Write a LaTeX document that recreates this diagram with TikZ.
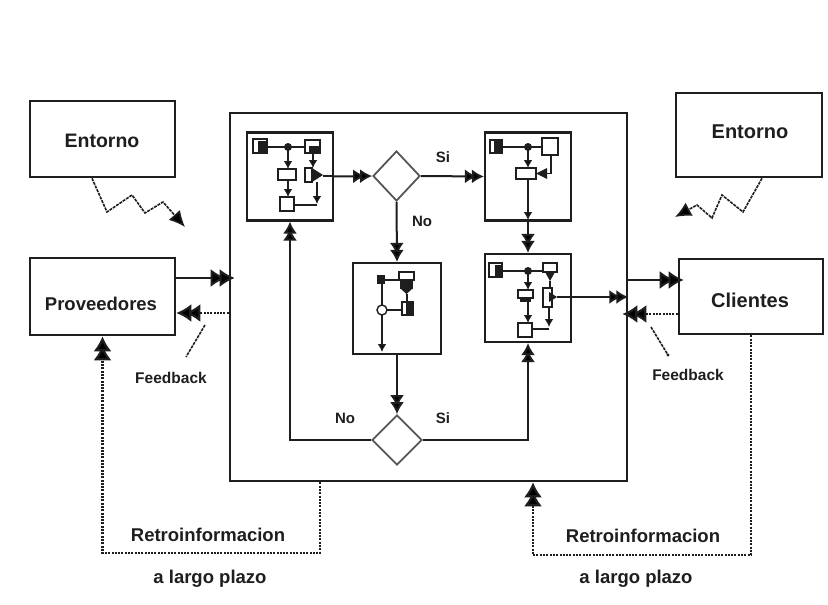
\documentclass[tikz,border=0pt]{standalone}
\usepackage{fontspec}
\setmainfont{Liberation Sans}
\usetikzlibrary{arrows.meta,shapes.geometric,calc}
\definecolor{ink}{HTML}{1E1E1E}
\tikzset{
  box/.style={draw=ink, line width=2.6pt, fill=white, inner sep=0pt},
  pbox/.style={draw=ink, line width=2.2pt, fill=white, inner sep=0pt},
  dia/.style={diamond, draw=ink!75, line width=1.8pt, fill=white, inner sep=0pt},
  lbl/.style={font=\bfseries\fontsize{#1}{#1}\selectfont, text=ink, inner sep=0pt, anchor=base},
  conn/.style={draw=ink, line width=2pt},
  tipm/.style={-{Latex[length=12pt,width=14pt,fill=black,sep=-5pt]Latex[length=12pt,width=14pt,fill=black]}},
  tipb/.style={-{Latex[length=15pt,width=18pt,fill=black,sep=-6pt]Latex[length=15pt,width=18pt,fill=black]}},
  arr/.style={conn, tipm},
  bigarr/.style={conn, tipb},
  dotarr/.style={draw=ink, line width=2.2pt, dash pattern=on 2pt off 1.3pt, tipb},
  zig/.style={draw=ink, line width=1.6pt, dash pattern=on 3pt off 1pt},
  mini/.style={draw=ink, line width=1.4pt, fill=white},
  mline/.style={draw=ink, line width=1.6pt},
  marr/.style={mline, -{Latex[length=8pt,width=9pt,fill=black]}},
}
\begin{document}
\begin{tikzpicture}[x=1pt,y=-1pt]
\useasboundingbox (0,0) rectangle (828,605);
\fill[white] (0,0) rectangle (828,605);

% outer boxes
\node[box, minimum width=145pt, minimum height=76pt] (ent1) at (102.5,139) {};
\node[box, minimum width=145pt, minimum height=77pt] (prov) at (102.5,296.5) {};
\node[box, minimum width=146pt, minimum height=84pt] (ent2) at (749,135) {};
\node[box, minimum width=144pt, minimum height=75pt] (cli) at (751,296.5) {};
\node[box, minimum width=397pt, minimum height=368pt] (main) at (428.5,297) {};

% inner process boxes and decisions
\node[pbox, minimum width=86pt, minimum height=88pt] (p1) at (290,176.5) {};
\node[pbox, minimum width=86pt, minimum height=88pt] (p2) at (528,176.5) {};
\node[pbox, minimum width=88pt, minimum height=91pt] (p3) at (397,308.5) {};
\node[pbox, minimum width=86pt, minimum height=88pt] (p4) at (528,298) {};
\node[dia, minimum width=47pt, minimum height=50pt] (d1) at (396.5,176) {};
\node[dia, minimum width=50pt, minimum height=50pt] (d2) at (397,440) {};

% labels
\node[lbl=19.5] at (102,147) {Entorno};
\node[lbl=18.5] at (101,310) {Proveedores};
\node[lbl=20] at (750,138) {Entorno};
\node[lbl=20] at (750,307) {Clientes};
\node[lbl=15.5] at (171,383) {Feedback};
\node[lbl=15.5] at (688,380) {Feedback};
\node[lbl=18.5] at (208,541) {Retroinformacion};
\node[lbl=18.5] at (210,583) {a largo plazo};
\node[lbl=18.5] at (643,542) {Retroinformacion};
\node[lbl=18.5] at (636,583) {a largo plazo};
\node[lbl=15] at (443,162) {Si};
\node[lbl=15] at (422,226) {No};
\node[lbl=15] at (345,423) {No};
\node[lbl=15] at (443,423) {Si};

% inner mini-flows
\begin{scope}[shift={(247,133)}]
\draw[mini] (6,6) rectangle (20,20); \fill[ink] (11,8) rectangle (20,20);
\draw[mline] (20,14) -- (58,14);
\draw[mini] (58,7) rectangle (73,20); \fill[ink] (62,13) rectangle (73,20);
\fill[ink] (41,14) circle (4pt);
\draw[marr] (41,17) -- (41,36);
\draw[mini] (31,36) rectangle (49,47);
\draw[marr] (41,47) -- (41,64);
\draw[mini] (33,64) rectangle (47,78);
\draw[marr] (66,20) -- (66,35);
\draw[mini] (58,35) rectangle (65,49);
\fill[ink] (65,35) -- (76,42) -- (65,49) -- cycle;
\draw[mline] (76,43) -- (86,43);
\draw[marr] (70,49) -- (70,71);
\draw[mline] (70,72) -- (47,72);
\end{scope}

\begin{scope}[shift={(485,133)}]
\draw[mini] (5,7) rectangle (17,20); \fill[ink] (9,8) rectangle (17,20);
\draw[mline] (17,14) -- (57,14);
\fill[ink] (43,14) circle (4pt);
\draw[mini] (57,5) rectangle (73,22);
\draw[marr] (43,17) -- (43,35);
\draw[mini] (31,35) rectangle (51,46);
\draw[mline] (66,22) -- (66,40.5) -- (62,40.5);
\fill[ink] (62,35) -- (51,40.5) -- (62,46) -- cycle;
\draw[marr] (43,46) -- (43,87);
\end{scope}

\begin{scope}[shift={(353,263)}]
\fill[ink] (24,12) rectangle (32,21);
\draw[mline] (32,17) -- (46,17);
\draw[mini] (46,9) rectangle (61,17);
\fill[ink] (47,17) rectangle (60,26); \fill[ink] (48,26) -- (59,26) -- (53.5,31) -- cycle;
\draw[mline] (29,21) -- (29,42);
\draw[mini] (29,47) circle (5pt);
\draw[mline] (34,47) -- (49,47);
\draw[mini] (49,39) rectangle (60,52); \fill[ink] (53,40) rectangle (60,52);
\draw[mline] (54,31) -- (54,39);
\draw[marr] (29,52) -- (29,89);
\end{scope}

\begin{scope}[shift={(485,254)}]
\draw[mini] (4,9) rectangle (17,23); \fill[ink] (10,11) rectangle (17,23);
\draw[mline] (17,17) -- (58,17);
\fill[ink] (43,17) circle (4pt);
\draw[mini] (58,9) rectangle (72,18); \fill[ink] (60,18) -- (70,18) -- (65,27) -- cycle;
\draw[marr] (43,20) -- (43,36);
\draw[mini] (33,36) rectangle (48,44); \fill[ink] (35,44) rectangle (46,48);
\draw[mline] (65,27) -- (65,34);
\draw[mini] (58,34) rectangle (67,53);
\fill[ink] (64,38) -- (72,43) -- (64,48) -- cycle;
\draw[marr] (43,48) -- (43,69);
\draw[mini] (33,69) rectangle (47,83);
\draw[marr] (64,53) -- (64,73);
\draw[mline] (64,75) -- (47,75);
\end{scope}

% inner connectors
\draw[arr] (p1.east) -- (d1.west);
\draw[arr] (d1.east) -- (p2.west);
\draw[arr] (d1.south) -- (p3.north);
\draw[arr] (p3.south) -- (d2.north);
\draw[arr] (d2.west) -| (p1.south);
\draw[arr] (d2.east) -| (p4.south);
\draw[arr] (p2.south) -- (p4.north);
\coordinate (p4o) at (557,297);
\draw[arr] (p4o) -- (p4o -| main.east);

% outer connectors
\coordinate (a1) at ([yshift=18.5pt]prov.east);
\draw[bigarr] (a1) -- ($(a1 -| main.west)+(6,0)$);
\coordinate (a2) at ([yshift=-16.5pt]prov.east);
\draw[dotarr] (a2 -| main.west) -- (a2);
\coordinate (a3) at ([yshift=16.5pt]cli.west);
\draw[bigarr] (a3 -| main.east) -- ($(a3)+(6,0)$);
\coordinate (a4) at ([yshift=-17.5pt]cli.west);
\draw[dotarr] (a4) -- ($(a4 -| main.east)+(-6,0)$);

% long-term feedback loops
\coordinate (r1) at (320,553);
\draw[dotarr] (r1 |- main.south) -- (r1) -| (prov.south);
\coordinate (r2) at (533,555);
\draw[dotarr] (cli.south) |- (r2) -- (r2 |- main.south);

% environment zigzags
\coordinate (z1) at ([xshift=-10.5pt]ent1.south);
\coordinate (zt1) at (185,227);
\draw[zig, -{Latex[length=16pt,width=15pt,fill=black]}] (z1) -- (107,212) -- (132,195) -- (145,213) -- (163,202) -- (zt1);
\coordinate (z2) at ([xshift=13pt]ent2.south);
\coordinate (zt2) at (675,217);
\draw[zig, -{Latex[length=16pt,width=15pt,fill=black]}] (z2) -- (743,212) -- (722,195) -- (712,218) -- (697,205) -- (zt2);

% feedback pointers
\coordinate (f1a) at (205,325); \coordinate (f1b) at (186,357);
\draw[zig] (f1a) -- (f1b);
\coordinate (f2a) at (651,327); \coordinate (f2b) at (668,355);
\draw[zig] (f2a) -- (f2b);
\fill[ink] (f2b) circle (1.6pt);
\end{tikzpicture}
\end{document}
